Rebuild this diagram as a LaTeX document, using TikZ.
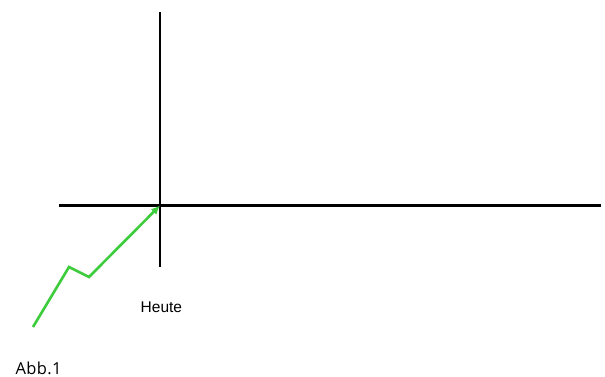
\documentclass[tikz,border=0pt]{standalone}
\usepackage{fontspec}
\setmainfont{Liberation Sans}
\newfontfamily\abbfont[LetterSpace=2]{Open Sans}
\usetikzlibrary{arrows.meta}
\definecolor{trendgreen}{RGB}{60,204,60}
\tikzset{
  axis/.style={line width=2.2pt, black},
  trend/.style={line width=2.6pt, trendgreen, line join=miter, -{Latex[length=9pt,width=8pt]}},
  lbl/.style={inner sep=0pt, anchor=base west}
}
\begin{document}
\begin{tikzpicture}[x=1pt,y=-1pt]
\useasboundingbox (0,0) rectangle (605,377);
\fill[white] (0,0) rectangle (605,377);
\coordinate (vtop) at (160,12);
\coordinate (vbot) at (160,267);
\coordinate (hleft) at (59,205.5);
\coordinate (hright) at (601,205.5);
\coordinate (g0) at (33,327);
\coordinate (g1) at (69,267);
\coordinate (g2) at (89,277);
\coordinate (g3) at (160,205.5);
\draw[axis] (vtop) -- (vbot);
\draw[axis] (hleft) -- (hright);
\draw[trend] (g0) -- (g1) -- (g2) -- (g3);
\node[lbl, font=\fontsize{15.5}{18}\selectfont] (heute) at (140.5,312) {Heute};
\node[lbl, font=\abbfont\fontsize{16.5}{19}\selectfont] (abb) at (15.5,374.5) {Abb.1};
\end{tikzpicture}
\end{document}
